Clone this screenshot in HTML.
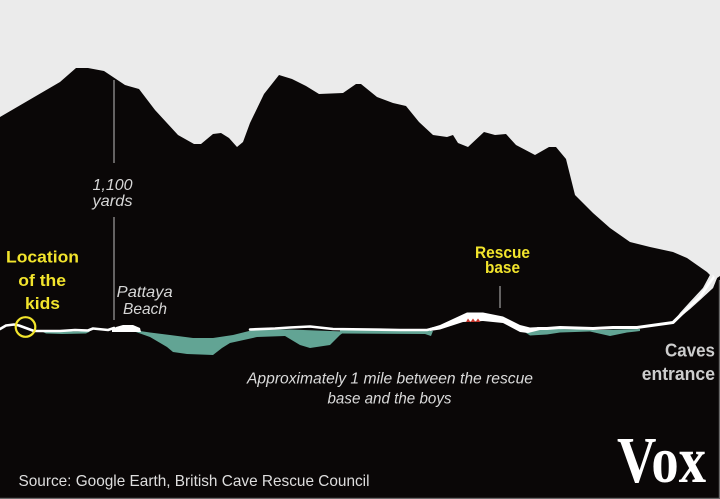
<!DOCTYPE html>
<html>
<head>
<meta charset="utf-8">
<style>
html,body{margin:0;padding:0;background:#0a0707;}
svg{display:block;}
</style>
</head>
<body>
<svg width="720" height="499" viewBox="0 0 720 499" xmlns="http://www.w3.org/2000/svg">
  <!-- sky -->
  <rect x="0" y="0" width="720" height="499" fill="#ebebeb"/>
  <!-- mountain + ground -->
  <path fill="#0a0707" d="M0,117 L60,82 L76,68 L88,68 L104,71 L116,79 L125,85 L139,89 L155,110 L178,135 L194,144 L201,144 L213,134 L221,133 L229,138 L237,147 L243,142 L250,123 L264,94 L279,75 L292,79 L306,86 L319,94 L343,93 L356,84 L361,84 L377,97 L393,103 L406,106 L419,122 L433,135 L447,137 L453,135 L458,143 L468,147 L484,132 L495,135 L506,134 L516,145 L535,155 L549,147 L556,147 L566,159 L575,195 L593,213 L610,228 L630,242 L650,247 L673,252 L687,258 L707,272 L710,275 L703,288 L690,302 L680,313 L673,322 L673,499 L0,499 Z"/>
  <!-- lower right ground -->
  <path fill="#0a0707" d="M720,276 L717,278 L713,288 L700,300 L690,309 L673,323 L673,499 L720,499 Z"/>

  <!-- teal water -->
  <g fill="#62a494">
    <path d="M133,330 L150,332.5 L170,335 L193,338 L213,338 L233,335 L253,330 L290,329.5 L330,331 L345,331.5 L340,335 L330,345 L310,348 L300,345 L285,336 L257,337 L230,343 L222,348 L213,355 L187,354 L173,352 L167,347 L150,337 L133,331 Z"/>
    <path d="M340,330 L428,330 L433,331 L431,336 L425,334 L340,333.5 Z"/>
    <path d="M523,329 L560,329 L600,330 L640,329 L640,331 L627,332.5 L610,336 L590,331.5 L560,332.5 L547,334.5 L530,335.5 L523,331 Z"/>
    <path d="M42,331.5 L90,331.5 L86,333.5 L62,334 L46,333.5 Z"/>
  </g>

  <!-- white cave line -->
  <g fill="none" stroke="#ffffff" stroke-width="2.6" stroke-linejoin="round" stroke-linecap="round">
    <path d="M0,329 L6,325.5 L14,324.5 L19,325.5 L34,331 L60,331 L75,330 L88,330.5 L93,328.5 L108,330 L114,328"/>
    <path d="M250,329.5 L275,328.5 L290,327.5 L310,326.5 L333,329 L400,330 L427,330 L433,328.5"/>
    <path d="M538,328.5 L547,328.5 L560,327.5 L593,328.5 L613,327.5 L637,327.5 L673,322.5 L690,306 L700,297 L708,285 L713,277" stroke-width="3"/>
  </g>
  <path fill="#ffffff" d="M112,330 L116,327 L123,325 L133,325 L140,328 L141,332 L112,332 Z"/>
  <path fill="#ffffff" d="M430,328 L440,325 L467,312.5 L483,312.5 L503,316.5 L520,325 L530,327.5 L540,327 L540,330 L528,333 L520,332 L503,323 L483,321 L463,322 L440,329.5 L430,331 Z"/>
  <!-- right wedge light -->
  <path fill="#ebebeb" d="M710,275 L717,278 L713,288 L700,300 L690,309 L675,321 L680,313 L690,302 L703,288 Z"/>
  <path fill="none" stroke="#ffffff" stroke-width="2.5" d="M673,322.5 L690,306 L700,297 L708,285 L714,277"/>

  <!-- rescue base markers -->
  <path fill="#c8372d" d="M466,322 L468,318.5 L470.5,322 L473,318.5 L475.5,322 L478,318.5 L480.5,322 Z"/>

  <!-- kids circle -->
  <circle cx="25.5" cy="327" r="9.8" fill="none" stroke="#f2e42c" stroke-width="2.2"/>

  <!-- annotation lines -->
  <g stroke="#bdbdbd" stroke-width="1">
    <line x1="114" y1="80" x2="114" y2="163"/>
    <line x1="114" y1="217" x2="114" y2="320"/>
    <line x1="500" y1="286" x2="500" y2="308"/>
  </g>

  <!-- labels -->
  <g font-family="'Liberation Sans', Arial, sans-serif">
    <g font-style="italic" fill="#d6d6d6" font-size="16">
      <text x="92.5" y="190" textLength="40" lengthAdjust="spacingAndGlyphs">1,100</text>
      <text x="92.5" y="206" textLength="40" lengthAdjust="spacingAndGlyphs">yards</text>
      <text x="116.7" y="297" textLength="56" lengthAdjust="spacingAndGlyphs">Pattaya</text>
      <text x="123" y="314" textLength="44" lengthAdjust="spacingAndGlyphs">Beach</text>
    </g>
    <g font-weight="bold" fill="#f2e42c" font-size="17">
      <text x="6" y="262.5" textLength="73" lengthAdjust="spacingAndGlyphs">Location</text>
      <text x="18.3" y="286" textLength="47.7" lengthAdjust="spacingAndGlyphs">of the</text>
      <text x="25" y="309" textLength="35" lengthAdjust="spacingAndGlyphs">kids</text>
    </g>
    <g font-weight="bold" fill="#f2e42c" font-size="16.5">
      <text x="475" y="258" textLength="55" lengthAdjust="spacingAndGlyphs">Rescue</text>
      <text x="485" y="273" textLength="35" lengthAdjust="spacingAndGlyphs">base</text>
    </g>
    <g font-weight="bold" fill="#cdcdcd" font-size="18">
      <text x="665" y="356.7" textLength="50" lengthAdjust="spacingAndGlyphs">Caves</text>
      <text x="641.7" y="380" textLength="73.3" lengthAdjust="spacingAndGlyphs">entrance</text>
    </g>
    <g font-style="italic" fill="#dadada" font-size="15.5">
      <text x="247" y="383.5" textLength="286" lengthAdjust="spacingAndGlyphs">Approximately 1 mile between the rescue</text>
      <text x="327.5" y="403.5" textLength="124" lengthAdjust="spacingAndGlyphs">base and the boys</text>
    </g>
    <text x="18.5" y="486" font-size="16" fill="#dedede" textLength="351" lengthAdjust="spacingAndGlyphs">Source: Google Earth, British Cave Rescue Council</text>
  </g>
  <text x="617" y="482" font-family="'Liberation Serif', 'DejaVu Serif', serif" font-weight="bold" font-size="66" fill="#ffffff" textLength="89" lengthAdjust="spacingAndGlyphs">Vox</text>

  <!-- thin border -->
  <rect x="718.8" y="280" width="1.2" height="219" fill="#6a6a6a"/>
  <rect x="0" y="497.8" width="720" height="1.2" fill="#6a6a6a"/>
</svg>
</body>
</html>
